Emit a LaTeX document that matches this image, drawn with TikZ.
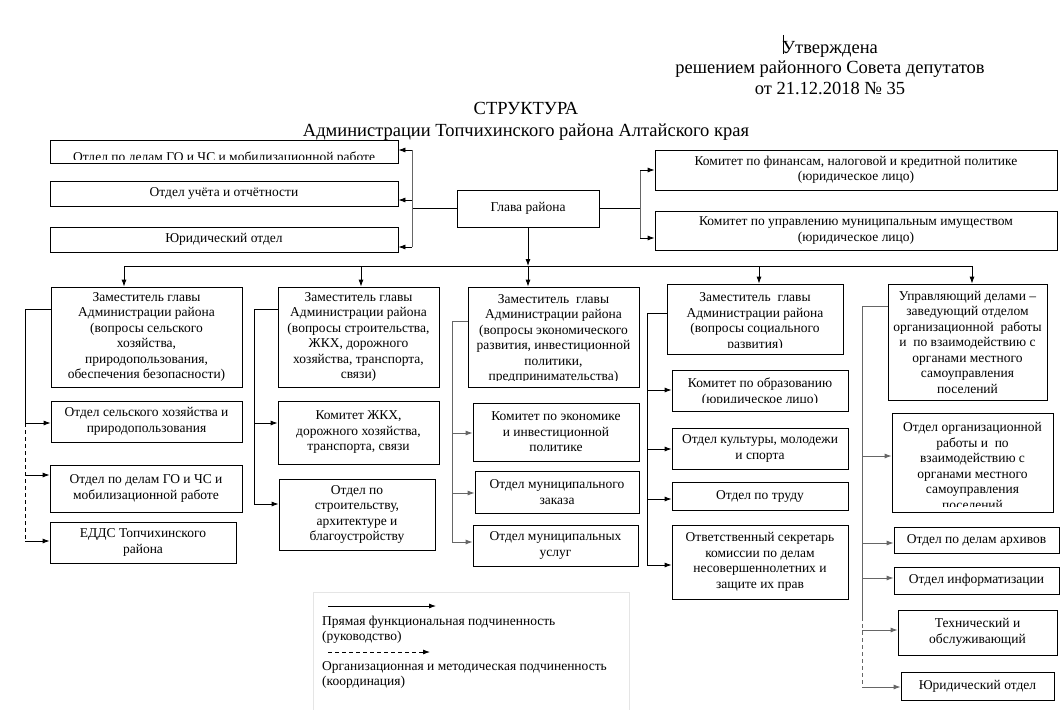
\documentclass[tikz,border=0pt]{standalone}
\usepackage{fontspec}
\setmainfont{Liberation Serif}
\usetikzlibrary{arrows.meta,calc}
\tikzset{
 bx/.style={draw, line width=0.8pt, inner sep=0pt, font=\rmfamily\fontsize{13.5}{15.5}\selectfont, align=center},
 tx/.style={inner sep=0pt, font=\rmfamily\fontsize{13.5}{15.5}\selectfont, align=center},
 lgt/.style={inner sep=0pt, font=\rmfamily\fontsize{13.5}{14.5}\selectfont, align=left, anchor=base west},
 ln/.style={line width=0.8pt},
 gln/.style={line width=0.9pt, draw=black!60},
 arr/.style={ln, -{Latex[length=7pt,width=5pt]}},
 garr/.style={gln, -{Latex[length=7pt,width=5pt]}},
 dsh/.style={dash pattern=on 4pt off 3pt},
 hd/.style={inner sep=0pt, font=\rmfamily\fontsize{18.5}{21}\selectfont, anchor=base},
}
\newcommand\mybox[6]{\node[bx, minimum width={(#4-#2)*1pt}, minimum height={(#5-#3)*1pt}] (#1) at ({(#2+#4)/2},{(#3+#5)/2}) {#6};}
\newcommand\myclipbox[8]{%
 \node[bx, minimum width={(#4-#2)*1pt}, minimum height={(#5-#3)*1pt}] (#1) at ({(#2+#4)/2},{(#3+#5)/2}) {};
 \begin{scope}\clip (#2,#3) rectangle (#4,#6); \node[tx] at ({(#2+#4)/2},#7) {#8};\end{scope}}
\begin{document}
\begin{tikzpicture}[x=1pt,y=-1pt]
\fill[white] (0,0) rectangle (1064,709);
\useasboundingbox (0,0) rectangle (1064,709);
% header
\node[hd] (h1) at (830,53) {Утверждена};
\draw[line width=0.5pt] (783,35) -- (783,54);
\node[hd] (h2) at (830,74) {решением районного Совета депутатов};
\node[hd] (h3) at (830,94) {от 21.12.2018 № 35};
\node[hd] (t1) at (526,114) {СТРУКТУРА};
\node[hd] (t2) at (526,136) {Администрации Топчихинского района Алтайского края};
% top row
\myclipbox{A1}{50}{140}{398}{163}{159.5}{158}{Отдел по делам ГО и ЧС и мобилизационной работе}
\mybox{A2}{50}{181}{398}{206}{Отдел учёта и отчётности}
\mybox{A3}{50}{227}{398}{252}{Юридический отдел}
\mybox{glava}{457}{190}{599}{227}{Глава района}
\mybox{R1}{655}{150}{1057}{190}{Комитет по финансам, налоговой и кредитной политике\\(юридическое лицо)}
\mybox{R2}{655}{211}{1057}{250}{Комитет по управлению муниципальным имуществом\\(юридическое лицо)}
% deputies
\mybox{D1}{51}{287}{242}{387}{Заместитель главы\\Администрации района\\(вопросы сельского\\хозяйства,\\природопользования,\\обеспечения безопасности)}
\mybox{D2}{278}{287}{439}{387}{Заместитель главы\\Администрации района\\(вопросы строительства,\\ЖКХ, дорожного\\хозяйства, транспорта,\\связи)}
\myclipbox{D3}{468}{287}{639}{387}{380}{339}{Заместитель\ \ главы\\Администрации района\\(вопросы экономического\\развития, инвестиционной\\политики,\\предпринимательства)}
\myclipbox{D4}{667}{284}{843}{354}{347}{322}{Заместитель\ \ главы\\Администрации района\\(вопросы социального\\развития)}
\mybox{D5}{888}{284}{1047}{400}{\fontsize{13.5}{16.1}\selectfont Управляющий делами –\\заведующий отделом\\организационной\ \ работы\\и\ \ по взаимодействию с\\органами местного\\самоуправления\\поселений}
% column 1
\mybox{C11}{51}{401}{242}{442}{Отдел сельского хозяйства и\\природопользования}
\mybox{C12}{50}{465}{242}{512}{Отдел по делам ГО и ЧС и\\мобилизационной работе}
\mybox{C13}{50}{522}{236}{563}{ЕДДС Топчихинского\\района}
% column 2
\mybox{C21}{278}{401}{439}{464}{Комитет ЖКХ,\\дорожного хозяйства,\\транспорта, связи}
\mybox{C22}{279}{479}{435}{550}{Отдел по\\строительству,\\архитектуре и\\благоустройству}
% column 3
\mybox{C31}{473}{403}{639}{461}{Комитет по экономике\\и инвестиционной\\политике}
\mybox{C32}{475}{471}{639}{513}{Отдел муниципального\\заказа}
\mybox{C33}{473}{525}{638}{566}{Отдел муниципальных\\услуг}
% column 4
\myclipbox{C41}{672}{370}{848}{411}{402}{392}{Комитет по образованию\\(юридическое лицо)}
\mybox{C42}{672}{428}{848}{469}{Отдел культуры, молодежи\\и спорта}
\mybox{C43}{672}{482}{848}{510}{Отдел по труду}
\mybox{C44}{672}{525}{848}{599}{Ответственный секретарь\\комиссии по делам\\несовершеннолетних и\\защите их прав}
% column 5
\myclipbox{C51}{892}{413}{1053}{512}{506}{466}{Отдел организационной\\работы и\ \ по\\взаимодействию с\\органами местного\\самоуправления\\поселений}
\mybox{C52}{894}{527}{1059}{553}{Отдел по делам архивов}
\mybox{C53}{894}{567}{1059}{594}{Отдел информатизации}
\mybox{C54}{898}{610}{1057}{655}{Технический и\\обслуживающий}
\mybox{C55}{901}{672}{1054}{700}{Юридический отдел}
% top connectors
\coordinate (LJ) at (412,208.5);
\coordinate (LT) at (412,150);
\coordinate (LM) at (412,200);
\coordinate (LB) at (412,247);
\draw[ln] (glava) -- (LJ);
\draw[gln] (LT) -- (LB);
\draw[arr] (LT) -- (LT -| A1.east);
\draw[arr] (LM) -- (LM -| A2.east);
\draw[arr] (LB) -- (LB -| A3.east);
\coordinate (RJ) at (640,208.5);
\coordinate (RT) at (640,170);
\coordinate (RB) at (640,238);
\draw[ln] (glava) -- (RJ);
\draw[gln] (RT) -- (RB);
\draw[arr] (RT) -- (RT -| R1.west);
\draw[arr] (RB) -- (RB -| R2.west);
% distribution
\coordinate (DJ) at (528,266);
\coordinate (DL) at (124,266);
\coordinate (DR) at (972,266);
\coordinate (X2) at (361,266);
\coordinate (X4) at (759,266);
\draw[arr] (glava) -- (DJ);
\draw[ln] (DL) -- (DR);
\draw[arr] (DL) -- (DL |- D1.north);
\draw[arr] (X2) -- (X2 |- D2.north);
\draw[arr] (DJ) -- (DJ |- D3.north);
\draw[arr] (X4) -- (X4 |- D4.north);
\draw[arr] (DR) -- (DR |- D5.north);
% column 1 connectors
\coordinate (c1a) at (25,309);
\coordinate (c1b) at (25,423);
\coordinate (c1c) at (25,475);
\coordinate (c1d) at (25,541);
\draw[ln] (D1.west |- c1a) -- (c1a) -- (c1b);
\draw[arr] (c1b) -- (c1b -| C11.west);
\draw[ln,dsh] (c1b) -- (c1d);
\draw[arr] (c1c) -- (c1c -| C12.west);
\draw[arr] (c1d) -- (c1d -| C13.west);
% column 2 connectors
\coordinate (c2a) at (254,309);
\coordinate (c2b) at (254,423);
\coordinate (c2c) at (254,504);
\draw[ln] (D2.west |- c2a) -- (c2a) -- (c2c);
\draw[arr] (c2b) -- (c2b -| C21.west);
\draw[arr] (c2c) -- (c2c -| C22.west);
% column 3 connectors
\coordinate (c3a) at (452,321);
\coordinate (c3b) at (452,433);
\coordinate (c3c) at (452,493);
\coordinate (c3d) at (452,542);
\draw[gln] (D3.west |- c3a) -- (c3a) -- (c3d);
\draw[garr] (c3b) -- (c3b -| C31.west);
\draw[garr] (c3c) -- (c3c -| C32.west);
\draw[garr] (c3d) -- (c3d -| C33.west);
% column 4 connectors
\coordinate (c4a) at (647,313);
\coordinate (c4b) at (647,390);
\coordinate (c4c) at (647,449);
\coordinate (c4d) at (647,499);
\coordinate (c4e) at (647,565);
\draw[ln] (D4.west |- c4a) -- (c4a) -- (c4e);
\draw[arr] (c4b) -- (c4b -| C41.west);
\draw[arr] (c4c) -- (c4c -| C42.west);
\draw[arr] (c4d) -- (c4d -| C43.west);
\draw[arr] (c4e) -- (c4e -| C44.west);
% column 5 connectors
\coordinate (c5a) at (862,306);
\coordinate (c5b) at (862,456);
\coordinate (c5c) at (862,543);
\coordinate (c5d) at (862,578);
\coordinate (c5s) at (862,617);
\coordinate (c5e) at (862,630);
\coordinate (c5f) at (862,687);
\draw[gln] (D5.west |- c5a) -- (c5a) -- (c5s);
\draw[gln,dsh] (c5s) -- (c5f);
\draw[garr] (c5b) -- (c5b -| C51.west);
\draw[garr] (c5c) -- (c5c -| C52.west);
\draw[garr] (c5d) -- (c5d -| C53.west);
\draw[garr] (c5e) -- (c5e -| C54.west);
\draw[garr] (c5f) -- (c5f -| C55.west);
% legend
\draw[draw=black!10, line width=0.6pt] (313,712) -- (313,592) -- (629,592) -- (629,712);
\coordinate (L1a) at (328,606);
\coordinate (L1b) at (436,606);
\coordinate (L2a) at (328,652);
\coordinate (L2b) at (430,652);
\draw[arr] (L1a) -- (L1b);
\draw[arr,dsh] (L2a) -- (L2b);
\node[lgt] (lg1) at (322,640) {Прямая функциональная подчиненность\\(руководство)};
\node[lgt] (lg2) at (322,685) {Организационная и методическая подчиненность\\(координация)};
\end{tikzpicture}
\end{document}
